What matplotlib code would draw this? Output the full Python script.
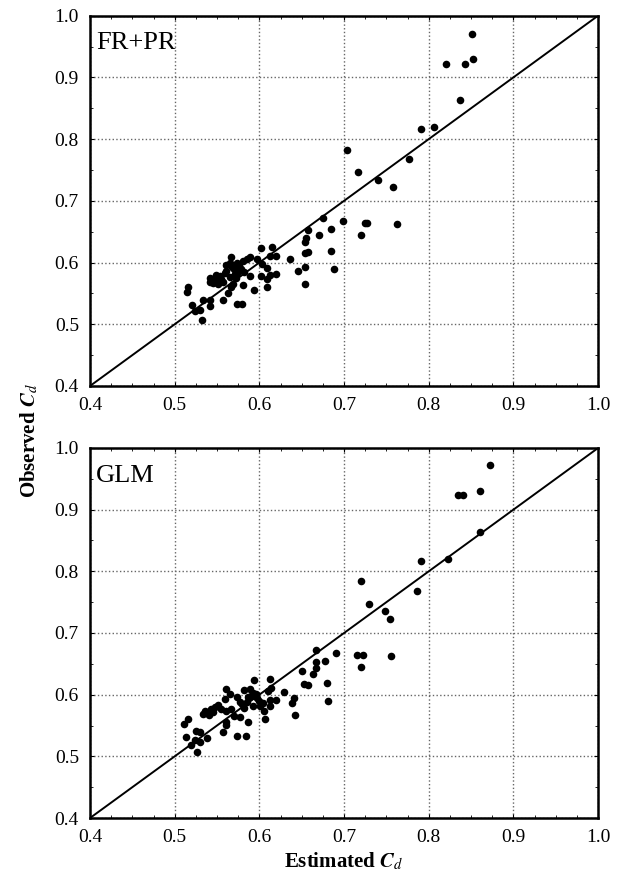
import matplotlib
matplotlib.use("Agg")
import matplotlib.pyplot as plt
from matplotlib.ticker import MultipleLocator

plt.rcParams["font.family"] = ["Liberation Serif", "DejaVu Serif"]
plt.rcParams["mathtext.fontset"] = "stix"

# data: estimated vs observed Cd
frpr_est = [0.851, 0.820, 0.843, 0.852, 0.837, 0.791, 0.806, 0.703, 0.777, 0.717,
            0.740, 0.758, 0.762, 0.699, 0.725, 0.727, 0.675, 0.670, 0.684, 0.720,
            0.657, 0.655, 0.654, 0.684, 0.654, 0.658, 0.688, 0.646, 0.654, 0.654,
            0.636, 0.615, 0.602, 0.620, 0.612, 0.620, 0.612, 0.609, 0.609, 0.609,
            0.602, 0.603, 0.597, 0.594, 0.589, 0.585, 0.581, 0.589, 0.582, 0.581,
            0.580, 0.574, 0.576, 0.574, 0.572, 0.566, 0.565, 0.561, 0.559, 0.565,
            0.569, 0.566, 0.563, 0.557, 0.555, 0.551, 0.549, 0.545, 0.542, 0.542,
            0.542, 0.542, 0.533, 0.532, 0.530, 0.524, 0.520, 0.516, 0.514, 0.570,
            0.557, 0.573, 0.568, 0.578, 0.553, 0.560, 0.547, 0.571]
frpr_obs = [0.971, 0.922, 0.922, 0.930, 0.863, 0.816, 0.819, 0.783, 0.768, 0.746,
            0.734, 0.723, 0.662, 0.668, 0.664, 0.664, 0.672, 0.644, 0.654, 0.644,
            0.652, 0.639, 0.634, 0.619, 0.615, 0.617, 0.589, 0.587, 0.593, 0.566,
            0.605, 0.625, 0.623, 0.611, 0.611, 0.582, 0.579, 0.574, 0.560, 0.591,
            0.578, 0.597, 0.605, 0.556, 0.609, 0.606, 0.602, 0.578, 0.584, 0.563,
            0.533, 0.533, 0.595, 0.583, 0.575, 0.609, 0.600, 0.596, 0.583, 0.577,
            0.566, 0.560, 0.550, 0.539, 0.574, 0.565, 0.580, 0.567, 0.575, 0.568,
            0.530, 0.539, 0.540, 0.507, 0.523, 0.521, 0.531, 0.560, 0.552, 0.589,
            0.569, 0.599, 0.592, 0.590, 0.578, 0.587, 0.571, 0.581]

glm_est = [0.872, 0.835, 0.840, 0.861, 0.861, 0.823, 0.791, 0.786, 0.720, 0.730,
           0.748, 0.754, 0.756, 0.715, 0.722, 0.720, 0.690, 0.667, 0.677, 0.667,
           0.667, 0.663, 0.650, 0.653, 0.658, 0.680, 0.681, 0.642, 0.638, 0.641,
           0.629, 0.620, 0.613, 0.614, 0.610, 0.612, 0.613, 0.606, 0.607, 0.594,
           0.589, 0.582, 0.596, 0.599, 0.601, 0.593, 0.585, 0.582, 0.577, 0.574,
           0.577, 0.586, 0.584, 0.573, 0.570, 0.567, 0.565, 0.561, 0.559, 0.561,
           0.561, 0.561, 0.557, 0.551, 0.548, 0.545, 0.540, 0.536, 0.534, 0.538,
           0.530, 0.525, 0.530, 0.526, 0.524, 0.519, 0.513, 0.511, 0.516, 0.590,
           0.597, 0.580, 0.604, 0.555, 0.543, 0.587, 0.592]
glm_obs = [0.972, 0.923, 0.923, 0.931, 0.864, 0.820, 0.817, 0.768, 0.784, 0.747,
           0.735, 0.723, 0.662, 0.665, 0.665, 0.645, 0.668, 0.672, 0.654, 0.653,
           0.644, 0.633, 0.639, 0.617, 0.616, 0.619, 0.590, 0.567, 0.587, 0.594,
           0.605, 0.592, 0.625, 0.611, 0.606, 0.592, 0.582, 0.574, 0.560, 0.623,
           0.609, 0.608, 0.601, 0.590, 0.582, 0.582, 0.588, 0.579, 0.588, 0.596,
           0.563, 0.556, 0.533, 0.533, 0.566, 0.576, 0.601, 0.610, 0.593, 0.574,
           0.556, 0.551, 0.539, 0.584, 0.580, 0.572, 0.567, 0.574, 0.568, 0.530,
           0.539, 0.541, 0.523, 0.507, 0.526, 0.519, 0.532, 0.552, 0.560, 0.598,
           0.594, 0.585, 0.586, 0.577, 0.576, 0.597, 0.603]

panels = [("FR+PR", frpr_est, frpr_obs), ("GLM", glm_est, glm_obs)]

fig = plt.figure(figsize=(6.23, 8.81), dpi=100)
boxes = [[0.1445, 0.5619, 0.8155, 0.4203], [0.1445, 0.0715, 0.8155, 0.4200]]

for (name, est, obs), box in zip(panels, boxes):
    ax = fig.add_axes(box)
    ax.plot([0.4, 1.0], [0.4, 1.0], color="black", lw=1.4, zorder=2)
    ax.scatter(est, obs, s=30, color="black", zorder=3, linewidths=0)
    ax.set_xlim(0.4, 1.0)
    ax.set_ylim(0.4, 1.0)
    ax.xaxis.set_major_locator(MultipleLocator(0.1))
    ax.yaxis.set_major_locator(MultipleLocator(0.1))
    ax.xaxis.set_minor_locator(MultipleLocator(0.025))
    ax.yaxis.set_minor_locator(MultipleLocator(0.05))
    ax.xaxis.set_major_formatter(plt.FuncFormatter(lambda v, p: f"{v:.1f}"))
    ax.yaxis.set_major_formatter(plt.FuncFormatter(lambda v, p: f"{v:.1f}"))
    ax.grid(True, which="major", color="#666666", linestyle=":", lw=1.0)
    ax.tick_params(which="both", direction="in", top=True, right=True,
                   labelsize=14, pad=8)
    ax.tick_params(which="major", length=3)
    ax.tick_params(which="minor", length=2)
    for sp in ax.spines.values():
        sp.set_linewidth(1.8)
    ax.text(0.012, 0.955, name, transform=ax.transAxes, fontsize=19,
            ha="left", va="top")

fig.text(0.048, 0.5, r"Observed $\mathbfit{C}_d$", rotation=90, ha="center",
         va="center", fontsize=15, fontweight="bold")
fig.text(0.552, 0.010, r"Estimated $\mathbfit{C}_d$", ha="center", va="bottom",
         fontsize=15, fontweight="bold")

plt.savefig("out.png", dpi=100)
